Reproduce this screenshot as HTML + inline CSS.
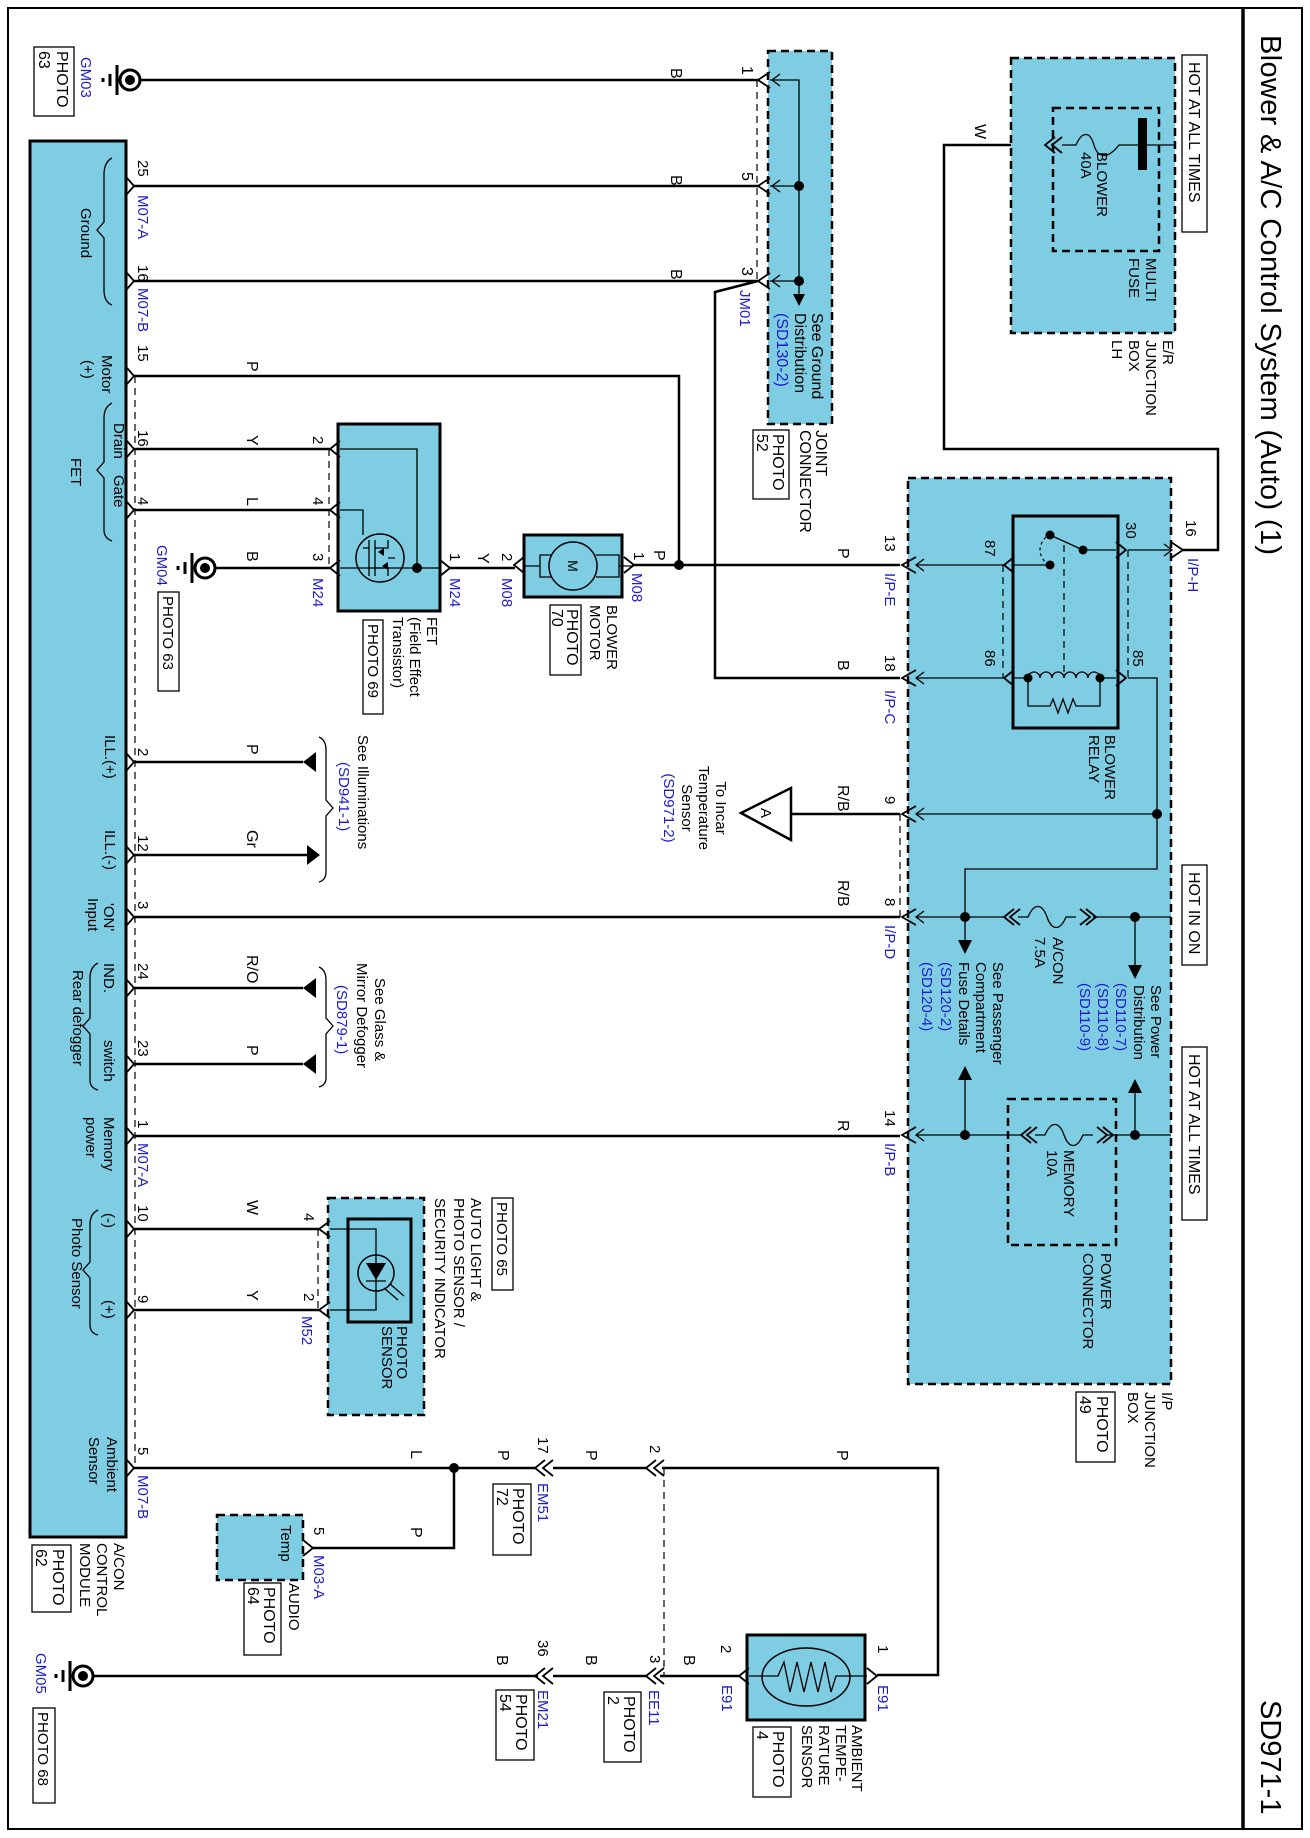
<!DOCTYPE html>
<html><head><meta charset="utf-8"><style>
html,body{margin:0;padding:0;background:#fff}
svg{display:block}
text{font-family:"Liberation Sans",sans-serif;font-size:16px;fill:#000}
.b{fill:#1c1ccc}
.bb{fill:#1c1ccc}
.w{fill:none;stroke:#000;stroke-width:2.5}
.t{fill:none;stroke:#000;stroke-width:1.3}
.d{fill:none;stroke:#000;stroke-width:1.2;stroke-dasharray:7 5}
.db{fill:#7fcde2;stroke:#000;stroke-width:2.5;stroke-dasharray:8 5}
.sb{fill:#7fcde2;stroke:#000;stroke-width:3}
.bx{fill:#fff;stroke:#000;stroke-width:1.3}
.ch{fill:none;stroke:#000;stroke-width:1.8}
</style></head><body>
<svg width="1310" height="1838" viewBox="0 0 1310 1838" xmlns="http://www.w3.org/2000/svg">
<rect x="0" y="0" width="1310" height="1838" fill="#fff"/>
<rect x="8" y="8" width="1294" height="1821" fill="none" stroke="#000" stroke-width="2"/>
<line x1="1243" y1="8" x2="1243" y2="1829" stroke="#000" stroke-width="3.5"/>
<text style="font-size:29px" textLength="520" transform="translate(1261 35) rotate(90)">Blower &amp; A/C Control System (Auto) (1)</text>
<text style="font-size:29px" transform="translate(1261 1700) rotate(90)">SD971-1</text>

<rect class="sb" x="30" y="141" width="96" height="1396"/>
<rect class="db" x="768" y="51" width="64" height="373"/>
<rect class="db" x="1011" y="58" width="164" height="275"/>
<rect class="db" x="908" y="478" width="263" height="906"/>
<rect class="sb" x="1013" y="516" width="105" height="212"/>
<rect x="1008" y="1099" width="108" height="146" fill="none" stroke="#000" stroke-width="2.5" stroke-dasharray="8 5"/>
<rect x="1053" y="108" width="106" height="143" fill="none" stroke="#000" stroke-width="2.5" stroke-dasharray="8 5"/>
<rect class="sb" x="524" y="535" width="98" height="62"/>
<rect class="sb" x="338" y="424" width="102" height="187"/>
<rect class="db" x="328" y="1198" width="96" height="217"/>
<rect x="348" y="1219" width="63" height="103" fill="none" stroke="#000" stroke-width="3"/>
<rect class="db" x="217" y="1515" width="86" height="65"/>
<rect class="sb" x="747" y="1635" width="118" height="85"/>

<rect class="bx" x="1182" y="55" width="25" height="177"/>
<text transform="translate(1189 62) rotate(90)">HOT AT ALL TIMES</text>
<rect class="bx" x="1182" y="865" width="25" height="100"/>
<text transform="translate(1189 872) rotate(90)">HOT IN ON</text>
<rect class="bx" x="1182" y="1047" width="25" height="173"/>
<text transform="translate(1189 1054) rotate(90)">HOT AT ALL TIMES</text>

<path class="w" d="M140 80 H758 M134 186 H758 M134 281 H758 M758 281 L715 292 V678 H900
M134 376 H679 V565 M632 565 H900 M134 449 H330 M134 510 H330 M215 568 H330 M450 568 H515
M134 762 H303 M134 855 H312 M134 917 H900 M134 988 H303 M134 1064 H303 M134 1136 H900
M791 814 H900 M134 1229 H319 M134 1310 H319
M134 1468 H535 M454 1468 V1548 H313 M553 1468 H646 M662 1468 H938 V1675 H877
M94 1676 H538 M553 1676 H646 M660 1676 H739
M1011 145 H944 V449 H1218 V550 H1183"/>
<circle cx="454" cy="1468" r="5"/>
<circle cx="679" cy="565" r="5"/>

<g>
<circle cx="130" cy="80" r="10" fill="#fff" stroke="#000" stroke-width="3"/><circle cx="130" cy="80" r="5"/>
<path d="M117 65 V95 M110 74 V86 M103 78 V82" stroke="#000" stroke-width="3"/>
<circle cx="205" cy="568" r="10" fill="#fff" stroke="#000" stroke-width="3"/><circle cx="205" cy="568" r="5"/>
<path d="M192 553 V583 M185 562 V574 M178 566 V570" stroke="#000" stroke-width="3"/>
<circle cx="83" cy="1676" r="10" fill="#fff" stroke="#000" stroke-width="3"/><circle cx="83" cy="1676" r="5"/>
<path d="M70 1661 V1691 M63 1670 V1682 M56 1674 V1678" stroke="#000" stroke-width="3"/>
</g>

<path class="ch" d="M127 178 L134 186 L127 194 M127 273 L134 281 L127 289 M127 368 L134 376 L127 384 M127 441 L134 449 L127 457 M127 502 L134 510 L127 518 M127 754 L134 762 L127 770 M127 847 L134 855 L127 863 M127 909 L134 917 L127 925 M127 980 L134 988 L127 996 M127 1056 L134 1064 L127 1072 M127 1128 L134 1136 L127 1144 M127 1221 L134 1229 L127 1237 M127 1302 L134 1310 L127 1318 M127 1460 L134 1468 L127 1476"/>
<line class="d" x1="135" y1="376" x2="135" y2="1468"/>

<path class="ch" d="M770 72 L758 80 L770 88 M770 178 L758 186 L770 194 M770 273 L758 281 L770 289"/>
<path class="t" d="M780 74 L772 80 L780 86 M780 180 L772 186 L780 192 M780 275 L772 281 L780 287"/>
<line class="d" x1="757" y1="80" x2="757" y2="281"/>
<path class="t" d="M770 80 H799 V294 M770 186 H799 M770 281 H799"/>
<circle cx="799" cy="186" r="5"/><circle cx="799" cy="281" r="5"/>
<path d="M793 294 L805 294 L799 306 Z"/>
<text transform="translate(812 313) rotate(90)">See Ground</text>
<text transform="translate(795 313) rotate(90)">Distribution</text>
<text class="b" transform="translate(777 313) rotate(90)">(SD130-2)</text>
<text class="bb" style="font-size:15px" transform="translate(740 290) rotate(90)">JM01</text>
<text transform="translate(816 430) rotate(90)">JOINT</text>
<text transform="translate(800 430) rotate(90)">CONNECTOR</text>
<rect class="bx" x="753" y="430" width="36" height="69"/>
<text transform="translate(773 434) rotate(90)">PHOTO</text>
<text transform="translate(757 434) rotate(90)">52</text>
<text transform="translate(742 66) rotate(90)">1</text>
<text transform="translate(742 172) rotate(90)">5</text>
<text transform="translate(742 267) rotate(90)">3</text>
<text transform="translate(671 68) rotate(90)">B</text>
<text transform="translate(671 175) rotate(90)">B</text>
<text transform="translate(671 269) rotate(90)">B</text>

<path class="ch" d="M1055 137 L1045 145 L1055 153 M1062 137 L1052 145 L1062 153"/>
<path class="t" d="M1062 145 H1076 C1082 131 1090 131 1094 145 C1098 159 1108 159 1119 145 H1175"/>
<rect x="1138" y="118" width="9" height="52"/>
<text transform="translate(975 124) rotate(90)">W</text>
<text style="font-size:15px" transform="translate(1097 152) rotate(90)">BLOWER</text>
<text style="font-size:15px" transform="translate(1081 152) rotate(90)">40A</text>
<text style="font-size:15px" transform="translate(1146 258) rotate(90)">MULTI</text>
<text style="font-size:15px" transform="translate(1129 258) rotate(90)">FUSE</text>
<text style="font-size:15px" transform="translate(1163 340) rotate(90)">E/R</text>
<text style="font-size:15px" transform="translate(1146 340) rotate(90)">JUNCTION</text>
<text style="font-size:15px" transform="translate(1129 340) rotate(90)">BOX</text>
<text style="font-size:15px" transform="translate(1112 340) rotate(90)">LH</text>

<path class="ch" d="M1171 542 L1183 550 L1171 558 M916 557 L902 565 L916 573 M916 670 L902 678 L916 686 M916 806 L902 814 L916 822 M916 909 L902 917 L916 925 M916 1127 L902 1135 L916 1143"/>
<path class="t" d="M1164 544 L1172 550 L1164 556 M924 559 L916 565 L924 571 M924 672 L916 678 L924 684 M924 808 L916 814 L924 820 M924 911 L916 917 L924 923 M924 1129 L916 1135 L924 1141"/>
<line class="d" x1="900" y1="814" x2="900" y2="917"/>
<path class="t" d="M1171 550 H1128 M1083 550 H1116 M916 565 H1006 M1014 565 H1050 M916 678 H1004 M1028 678 H1014 M1116 678 H1100 M1128 678 H1157 V869 H965 V940 M916 814 H1157 M916 917 H1004 M1018 917 H1028 C1034 903 1042 903 1047 917 C1052 931 1060 931 1066 917 H1076 M1093 917 H1171 M1135 917 V965 M965 1080 V1135 M1135 1093 V1135 M916 1135 H1021 M1035 1135 H1045 C1051 1121 1059 1121 1064 1135 C1069 1149 1077 1149 1083 1135 H1093 M1107 1135 H1171"/>
<path class="ch" d="M1014 909 L1004 917 L1014 925 M1020 909 L1010 917 L1020 925 M1080 909 L1090 917 L1080 925 M1086 909 L1096 917 L1086 925 M1031 1127 L1021 1135 L1031 1143 M1037 1127 L1027 1135 L1037 1143 M1097 1127 L1107 1135 L1097 1143 M1103 1127 L1113 1135 L1103 1143"/>
<circle cx="1157" cy="814" r="5"/>
<circle cx="965" cy="917" r="5"/><circle cx="1135" cy="917" r="5"/>
<circle cx="965" cy="1135" r="5"/><circle cx="1135" cy="1135" r="5"/>
<path d="M958 940 L972 940 L965 954 Z M1128 965 L1142 965 L1135 979 Z M958 1080 L972 1080 L965 1066 Z M1128 1093 L1142 1093 L1135 1079 Z"/>
<path class="ch" d="M1014 557 L1004 565 L1014 573 M1014 670 L1004 678 L1014 686 M1116 542 L1126 550 L1116 558 M1116 670 L1126 678 L1116 686"/>
<line class="d" x1="1003" y1="565" x2="1003" y2="678"/>
<line class="d" x1="1128" y1="550" x2="1128" y2="678"/>
<line class="d" x1="1064" y1="545" x2="1064" y2="672"/>
<circle cx="1083" cy="550" r="4.5"/><circle cx="1050" cy="535" r="4.5"/><circle cx="1050" cy="565" r="4.5"/>
<path class="t" d="M1083 550 L1050 535"/>
<path d="M1046 537 Q1034 550 1046 563" fill="none" stroke="#000" stroke-width="1.2" stroke-dasharray="3 3"/>
<circle cx="1028" cy="678" r="4.5"/><circle cx="1100" cy="678" r="4.5"/>
<path class="t" d="M1028 678 a6 6 0 0 1 12 0 a6 6 0 0 1 12 0 a6 6 0 0 1 12 0 a6 6 0 0 1 12 0 a6 6 0 0 1 12 0 a6 6 0 0 1 12 0 M1028 678 V706 H1050 L1053 699 L1058 713 L1063 699 L1068 713 L1073 699 L1076 706 H1100 V678"/>
<text style="font-size:15px" transform="translate(1186 520) rotate(90)">16</text>
<text class="b" style="font-size:15px" transform="translate(1188 558) rotate(90)">I/P-H</text>
<text style="font-size:15px" transform="translate(1126 522) rotate(90)">30</text>
<text style="font-size:15px" transform="translate(985 540) rotate(90)">87</text>
<text style="font-size:15px" transform="translate(985 650) rotate(90)">86</text>
<text style="font-size:15px" transform="translate(1133 650) rotate(90)">85</text>
<text style="font-size:15px" transform="translate(885 535) rotate(90)">13</text>
<text class="b" style="font-size:15px" transform="translate(885 573) rotate(90)">I/P-E</text>
<text transform="translate(838 548) rotate(90)">P</text>
<text style="font-size:15px" transform="translate(885 655) rotate(90)">18</text>
<text class="b" style="font-size:15px" transform="translate(885 690) rotate(90)">I/P-C</text>
<text transform="translate(838 660) rotate(90)">B</text>
<text style="font-size:15px" transform="translate(885 796) rotate(90)">9</text>
<text transform="translate(838 785) rotate(90)">R/B</text>
<text style="font-size:15px" transform="translate(885 898) rotate(90)">8</text>
<text class="b" style="font-size:15px" transform="translate(885 925) rotate(90)">I/P-D</text>
<text transform="translate(838 880) rotate(90)">R/B</text>
<text style="font-size:15px" transform="translate(885 1110) rotate(90)">14</text>
<text class="b" style="font-size:15px" transform="translate(885 1143) rotate(90)">I/P-B</text>
<text transform="translate(838 1120) rotate(90)">R</text>
<text style="font-size:15px" transform="translate(1105 735) rotate(90)">BLOWER</text>
<text style="font-size:15px" transform="translate(1089 735) rotate(90)">RELAY</text>
<text style="font-size:15px" transform="translate(1053 937) rotate(90)">A/CON</text>
<text style="font-size:15px" transform="translate(1035 937) rotate(90)">7.5A</text>
<text style="font-size:15px" transform="translate(1064 1150) rotate(90)">MEMORY</text>
<text style="font-size:15px" transform="translate(1047 1150) rotate(90)">10A</text>
<text style="font-size:15px" transform="translate(1151 985) rotate(90)">See Power</text>
<text style="font-size:15px" transform="translate(1134 985) rotate(90)">Distribution</text>
<text class="b" style="font-size:15px" transform="translate(1116 983) rotate(90)">(SD110-7)</text>
<text class="b" style="font-size:15px" transform="translate(1098 983) rotate(90)">(SD110-8)</text>
<text class="b" style="font-size:15px" transform="translate(1080 983) rotate(90)">(SD110-9)</text>
<text style="font-size:15px" transform="translate(993 962) rotate(90)">See Passenger</text>
<text style="font-size:15px" transform="translate(976 962) rotate(90)">Compartment</text>
<text style="font-size:15px" transform="translate(959 962) rotate(90)">Fuse Details</text>
<text class="b" style="font-size:15px" transform="translate(941 962) rotate(90)">(SD120-2)</text>
<text class="b" style="font-size:15px" transform="translate(922 962) rotate(90)">(SD120-4)</text>
<text style="font-size:15px" transform="translate(1101 1253) rotate(90)">POWER</text>
<text style="font-size:15px" transform="translate(1083 1253) rotate(90)">CONNECTOR</text>
<text style="font-size:15px" transform="translate(1162 1392) rotate(90)">I/P</text>
<text style="font-size:15px" transform="translate(1145 1392) rotate(90)">JUNCTION</text>
<text style="font-size:15px" transform="translate(1128 1392) rotate(90)">BOX</text>
<rect class="bx" x="1076" y="1392" width="39" height="70"/>
<text transform="translate(1097 1396) rotate(90)">PHOTO</text>
<text transform="translate(1080 1396) rotate(90)">49</text>

<path d="M741 813 L791 788 L791 840 Z" fill="#fff" stroke="#000" stroke-width="2.5"/>
<text style="font-size:15px" transform="translate(761 813) rotate(90)" text-anchor="middle">A</text>
<g text-anchor="middle">
<text style="font-size:15px" transform="translate(716 808) rotate(90)">To Incar</text>
<text style="font-size:15px" transform="translate(699 808) rotate(90)">Temperature</text>
<text style="font-size:15px" transform="translate(682 808) rotate(90)">Sensor</text>
<text class="b" style="font-size:15px" transform="translate(664 808) rotate(90)">(SD971-2)</text>
</g>

<circle cx="573" cy="566" r="24" fill="#7fcde2" stroke="#000" stroke-width="1.5"/>
<text style="font-size:14px" text-anchor="middle" transform="translate(568 566) rotate(90)">M</text>
<path class="t" d="M596 555 H619 V577 H596 M551 555 H540 V577 H551 M619 566 H632 M540 566 H524"/>
<path class="ch" d="M624 557 L634 565 L624 573 M524 557 L514 565 L524 573"/>
<text style="font-size:15px" transform="translate(634 552) rotate(90)">1</text>
<text transform="translate(654 550) rotate(90)">P</text>
<text class="b" style="font-size:15px" transform="translate(632 573) rotate(90)">M08</text>
<text style="font-size:15px" transform="translate(607 605) rotate(90)">BLOWER</text>
<text style="font-size:15px" transform="translate(590 605) rotate(90)">MOTOR</text>
<rect class="bx" x="550" y="605" width="31" height="70"/>
<text transform="translate(567 609) rotate(90)">PHOTO</text>
<text transform="translate(552 609) rotate(90)">70</text>

<path class="ch" d="M340 441 L330 449 L340 457 M340 502 L330 510 L340 518 M340 560 L330 568 L340 576 M440 560 L450 568 L440 576"/>
<line class="d" x1="329" y1="449" x2="329" y2="568"/>
<path class="t" d="M340 449 H417 V568 M340 510 H363 V535 M340 568 H440"/>
<circle cx="417" cy="568" r="5"/>
<circle cx="380" cy="558" r="24" fill="none" stroke="#000" stroke-width="1.5"/>
<path class="t" d="M369 540 V576 M375 540 V576 M375 548 H388 V540 M375 568 H388 V576 M363 548 H369 M388 558 H395"/>
<path d="M378 552 L384 548 L384 556 Z M382 566 L388 562 L388 570 Z"/>
<text style="font-size:15px" transform="translate(313 436) rotate(90)">2</text>
<text style="font-size:15px" transform="translate(313 497) rotate(90)">4</text>
<text style="font-size:15px" transform="translate(313 553) rotate(90)">3</text>
<text class="b" style="font-size:15px" transform="translate(313 578) rotate(90)">M24</text>
<text style="font-size:15px" transform="translate(450 553) rotate(90)">1</text>
<text class="b" style="font-size:15px" transform="translate(450 578) rotate(90)">M24</text>
<text transform="translate(478 553) rotate(90)">Y</text>
<text style="font-size:15px" transform="translate(502 553) rotate(90)">2</text>
<text class="b" style="font-size:15px" transform="translate(502 578) rotate(90)">M08</text>
<text style="font-size:15px" transform="translate(427 617) rotate(90)">FET</text>
<text style="font-size:15px" transform="translate(410 617) rotate(90)">(Field Effect</text>
<text style="font-size:15px" transform="translate(393 617) rotate(90)">Transistor)</text>
<rect class="bx" x="363" y="620" width="20" height="94"/>
<text style="font-size:15px" transform="translate(368 624) rotate(90)">PHOTO 69</text>
<text class="b" style="font-size:15px" transform="translate(157 545) rotate(90)">GM04</text>
<rect class="bx" x="158" y="592" width="21" height="99"/>
<text style="font-size:15px" transform="translate(163 596) rotate(90)">PHOTO 63</text>
<text class="b" style="font-size:15px" transform="translate(81 57) rotate(90)">GM03</text>
<rect class="bx" x="34" y="47" width="40" height="69"/>
<text transform="translate(57 51) rotate(90)">PHOTO</text>
<text transform="translate(39 51) rotate(90)">63</text>

<g>
<text style="font-size:15px" transform="translate(138 160) rotate(90)">25</text>
<text class="b" style="font-size:15px" transform="translate(138 195) rotate(90)">M07-A</text>
<text style="font-size:15px" transform="translate(138 265) rotate(90)">16</text>
<text class="b" style="font-size:15px" transform="translate(138 288) rotate(90)">M07-B</text>
<text style="font-size:15px" transform="translate(138 345) rotate(90)">15</text>
<text style="font-size:15px" transform="translate(138 430) rotate(90)">16</text>
<text style="font-size:15px" transform="translate(138 497) rotate(90)">4</text>
<text style="font-size:15px" transform="translate(138 748) rotate(90)">2</text>
<text style="font-size:15px" transform="translate(138 835) rotate(90)">12</text>
<text style="font-size:15px" transform="translate(138 901) rotate(90)">3</text>
<text style="font-size:15px" transform="translate(138 963) rotate(90)">24</text>
<text style="font-size:15px" transform="translate(138 1040) rotate(90)">23</text>
<text style="font-size:15px" transform="translate(138 1120) rotate(90)">1</text>
<text class="b" style="font-size:15px" transform="translate(138 1143) rotate(90)">M07-A</text>
<text style="font-size:15px" transform="translate(138 1205) rotate(90)">10</text>
<text style="font-size:15px" transform="translate(138 1295) rotate(90)">9</text>
<text style="font-size:15px" transform="translate(138 1447) rotate(90)">5</text>
<text class="b" style="font-size:15px" transform="translate(138 1475) rotate(90)">M07-B</text>
</g>
<path class="t" d="M112 158 Q104 162 104 175 V222 L97 230 L104 238 V290 Q104 302 112 305 M112 403 Q104 407 104 418 V462 L97 470 L104 478 V530 Q104 538 112 541 M98 963 Q90 967 90 978 V1018 L83 1026 L90 1034 V1080 Q90 1088 98 1090 M98 1210 Q90 1214 90 1224 V1262 L83 1270 L90 1278 V1325 Q90 1333 98 1335"/>
<text style="font-size:15px" transform="translate(81 208) rotate(90)">Ground</text>
<text style="font-size:15px" transform="translate(102 355) rotate(90)">Motor</text>
<text style="font-size:15px" transform="translate(83 360) rotate(90)">(+)</text>
<text style="font-size:15px" transform="translate(114 423) rotate(90)">Drain</text>
<text style="font-size:15px" transform="translate(114 475) rotate(90)">Gate</text>
<text style="font-size:15px" transform="translate(71 458) rotate(90)">FET</text>
<text style="font-size:15px" transform="translate(105 735) rotate(90)">ILL.(+)</text>
<text style="font-size:15px" transform="translate(105 830) rotate(90)">ILL.(-)</text>
<text style="font-size:15px" transform="translate(104 903) rotate(90)">'ON'</text>
<text style="font-size:15px" transform="translate(88 898) rotate(90)">Input</text>
<text style="font-size:15px" transform="translate(104 963) rotate(90)">IND.</text>
<text style="font-size:15px" transform="translate(104 1040) rotate(90)">switch</text>
<text style="font-size:15px" transform="translate(73 970) rotate(90)">Rear defogger</text>
<text style="font-size:15px" transform="translate(104 1117) rotate(90)">Memory</text>
<text style="font-size:15px" transform="translate(86 1117) rotate(90)">power</text>
<text style="font-size:15px" transform="translate(104 1213) rotate(90)">(-)</text>
<text style="font-size:15px" transform="translate(104 1300) rotate(90)">(+)</text>
<text style="font-size:15px" transform="translate(72 1218) rotate(90)">Photo Sensor</text>
<text style="font-size:15px" transform="translate(107 1437) rotate(90)">Ambient</text>
<text style="font-size:15px" transform="translate(89 1437) rotate(90)">Sensor</text>
<text transform="translate(247 361) rotate(90)">P</text>
<text transform="translate(247 435) rotate(90)">Y</text>
<text transform="translate(247 497) rotate(90)">L</text>
<text transform="translate(247 551) rotate(90)">B</text>
<text transform="translate(247 744) rotate(90)">P</text>
<text transform="translate(247 830) rotate(90)">Gr</text>
<text transform="translate(247 955) rotate(90)">R/O</text>
<text transform="translate(247 1045) rotate(90)">P</text>
<text transform="translate(247 1200) rotate(90)">W</text>
<text transform="translate(247 1290) rotate(90)">Y</text>

<path d="M303 762 L316 752 L316 772 Z M320 855 L307 845 L307 865 Z M303 988 L316 978 L316 998 Z M303 1064 L316 1054 L316 1074 Z"/>
<path class="t" d="M319 737 Q326 740 326 750 V800 L333 808 L326 816 V872 Q326 880 319 882 M319 967 Q326 970 326 980 V1018 L333 1026 L326 1034 V1078 Q326 1085 319 1087"/>
<text style="font-size:15px" transform="translate(358 735) rotate(90)">See Illuminations</text>
<text class="b" style="font-size:15px" transform="translate(339 762) rotate(90)">(SD941-1)</text>
<text style="font-size:15px" transform="translate(375 978) rotate(90)">See Glass &amp;</text>
<text style="font-size:15px" transform="translate(357 963) rotate(90)">Mirror Defogger</text>
<text class="b" style="font-size:15px" transform="translate(337 985) rotate(90)">(SD879-1)</text>

<path class="ch" d="M330 1221 L319 1229 L330 1237 M330 1302 L319 1310 L330 1318"/>
<line class="d" x1="318" y1="1229" x2="318" y2="1310"/>
<path class="t" d="M330 1229 H376 V1310 H330"/>
<circle cx="376" cy="1273" r="18" fill="none" stroke="#000" stroke-width="1.5"/>
<path d="M366 1263 L386 1263 L376 1280 Z"/>
<path class="t" d="M366 1281 H386 M384 1288 L398 1300 M390 1284 L404 1296"/>
<text style="font-size:15px" transform="translate(304 1213) rotate(90)">4</text>
<text style="font-size:15px" transform="translate(304 1293) rotate(90)">2</text>
<text class="b" style="font-size:15px" transform="translate(302 1316) rotate(90)">M52</text>
<text style="font-size:15px" transform="translate(397 1326) rotate(90)">PHOTO</text>
<text style="font-size:15px" transform="translate(382 1326) rotate(90)">SENSOR</text>
<text style="font-size:15px" transform="translate(471 1198) rotate(90)">AUTO LIGHT &amp;</text>
<text style="font-size:15px" transform="translate(454 1198) rotate(90)">PHOTO SENSOR /</text>
<text style="font-size:15px" transform="translate(435 1198) rotate(90)">SECURITY INDICATOR</text>
<rect class="bx" x="492" y="1198" width="21" height="92"/>
<text style="font-size:15px" transform="translate(497 1202) rotate(90)">PHOTO 65</text>

<path class="ch" d="M303 1540 L313 1548 L303 1556"/>
<text transform="translate(411 1450) rotate(90)">L</text>
<text transform="translate(498 1450) rotate(90)">P</text>
<text transform="translate(411 1527) rotate(90)">P</text>
<text style="font-size:15px" transform="translate(314 1527) rotate(90)">5</text>
<text class="b" style="font-size:15px" transform="translate(314 1555) rotate(90)">M03-A</text>
<text style="font-size:15px" transform="translate(281 1525) rotate(90)">Temp</text>
<text style="font-size:15px" transform="translate(289 1583) rotate(90)">AUDIO</text>
<rect class="bx" x="244" y="1583" width="37" height="72"/>
<text transform="translate(264 1587) rotate(90)">PHOTO</text>
<text transform="translate(248 1587) rotate(90)">64</text>
<text style="font-size:15px" transform="translate(114 1543) rotate(90)">A/CON</text>
<text style="font-size:15px" transform="translate(97 1543) rotate(90)">CONTROL</text>
<text style="font-size:15px" transform="translate(80 1543) rotate(90)">MODULE</text>
<rect class="bx" x="32" y="1545" width="39" height="67"/>
<text transform="translate(53 1549) rotate(90)">PHOTO</text>
<text transform="translate(36 1549) rotate(90)">62</text>
<text class="b" style="font-size:15px" transform="translate(36 1653) rotate(90)">GM05</text>
<rect class="bx" x="33" y="1708" width="22" height="95"/>
<text style="font-size:15px" transform="translate(38 1712) rotate(90)">PHOTO 68</text>

<path class="ch" d="M545 1460 L535 1468 L545 1476 M553 1460 L543 1468 L553 1476 M545 1668 L535 1676 L545 1684 M553 1668 L543 1676 L553 1684 M656 1460 L646 1468 L656 1476 M664 1460 L654 1468 L664 1476 M656 1668 L646 1676 L656 1684 M664 1668 L654 1676 L664 1684 M749 1668 L739 1676 L749 1684 M867 1668 L877 1676 L867 1684"/>
<line class="d" x1="664" y1="1468" x2="664" y2="1676"/>
<text style="font-size:15px" transform="translate(538 1437) rotate(90)">17</text>
<text class="b" style="font-size:15px" transform="translate(538 1483) rotate(90)">EM51</text>
<rect class="bx" x="493" y="1484" width="38" height="71"/>
<text transform="translate(513 1488) rotate(90)">PHOTO</text>
<text transform="translate(497 1488) rotate(90)">72</text>
<text style="font-size:15px" transform="translate(538 1640) rotate(90)">36</text>
<text class="b" style="font-size:15px" transform="translate(538 1690) rotate(90)">EM21</text>
<rect class="bx" x="496" y="1690" width="38" height="70"/>
<text transform="translate(516 1694) rotate(90)">PHOTO</text>
<text transform="translate(500 1694) rotate(90)">54</text>
<text transform="translate(497 1655) rotate(90)">B</text>
<text transform="translate(586 1655) rotate(90)">B</text>
<text transform="translate(684 1655) rotate(90)">B</text>
<text transform="translate(586 1450) rotate(90)">P</text>
<text transform="translate(837 1450) rotate(90)">P</text>
<text style="font-size:15px" transform="translate(650 1445) rotate(90)">2</text>
<text style="font-size:15px" transform="translate(650 1655) rotate(90)">3</text>
<text class="b" style="font-size:15px" transform="translate(649 1690) rotate(90)">EE11</text>
<rect class="bx" x="604" y="1692" width="37" height="70"/>
<text transform="translate(624 1696) rotate(90)">PHOTO</text>
<text transform="translate(608 1696) rotate(90)">2</text>
<ellipse cx="806" cy="1677" rx="44" ry="29" fill="none" stroke="#000" stroke-width="1.5"/>
<path class="t" d="M749 1676 H778 L784 1662 L790 1692 L797 1662 L804 1692 L811 1662 L818 1692 L825 1662 L831 1692 L836 1676 H867"/>
<text style="font-size:15px" transform="translate(721 1645) rotate(90)">2</text>
<text class="b" style="font-size:15px" transform="translate(722 1685) rotate(90)">E91</text>
<text style="font-size:15px" transform="translate(878 1645) rotate(90)">1</text>
<text class="b" style="font-size:15px" transform="translate(878 1685) rotate(90)">E91</text>
<text style="font-size:15px" transform="translate(852 1725) rotate(90)">AMBIENT</text>
<text style="font-size:15px" transform="translate(836 1725) rotate(90)">TEMPE-</text>
<text style="font-size:15px" transform="translate(819 1725) rotate(90)">RATURE</text>
<text style="font-size:15px" transform="translate(802 1725) rotate(90)">SENSOR</text>
<rect class="bx" x="753" y="1727" width="38" height="70"/>
<text transform="translate(773 1731) rotate(90)">PHOTO</text>
<text transform="translate(757 1731) rotate(90)">4</text>
</svg>
</body></html>
